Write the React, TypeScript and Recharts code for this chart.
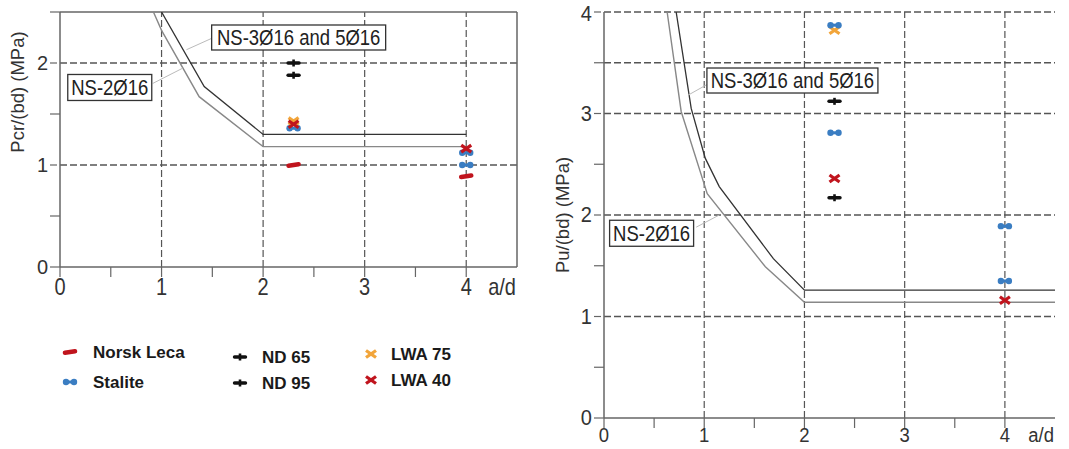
import React from 'react';
import {
  ComposedChart,
  Line,
  Scatter,
  XAxis,
  YAxis,
  ReferenceLine,
  ReferenceDot,
} from 'recharts';

const FONT = '"Liberation Sans", Arial, Helvetica, sans-serif';

// ---------- Cracking load Pcr/(bd) ----------
const pcrNorskLecaAD = [2.3, 4];
const pcrNorskLecaVal = [1.0, 0.89];
const pcrStaliteAD = [2.3, 4, 4];
const pcrStaliteVal = [1.36, 1.12, 1.0];
const pcrND65AD = [2.3];
const pcrND65Val = [1.88];
const pcrND95AD = [2.3];
const pcrND95Val = [2.0];
const pcrLWA75AD = [2.3];
const pcrLWA75Val = [1.43];
const pcrLWA40AD = [2.3, 4];
const pcrLWA40Val = [1.4, 1.16];

// design curves (NS code) for cracking load
const pcrNS3AD = [1.0, 1.42, 2.0, 4.0];
const pcrNS3Val = [2.5, 1.77, 1.3, 1.3];
const pcrNS2AD = [0.92, 1.0, 1.37, 2.0, 4.0];
const pcrNS2Val = [2.5, 2.32, 1.67, 1.18, 1.18];

// ---------- Ultimate load Pu/(bd) ----------
const puStaliteAD = [2.3, 2.3, 4, 4];
const puStaliteVal = [3.87, 2.81, 1.89, 1.35];
const puND65AD = [2.3];
const puND65Val = [2.17];
const puND95AD = [2.3];
const puND95Val = [3.12];
const puLWA75AD = [2.3];
const puLWA75Val = [3.82];
const puLWA40AD = [2.3, 4];
const puLWA40Val = [2.36, 1.16];

// design curves (NS code) for ultimate load
const puNS3AD = [0.72, 0.87, 1.01, 1.15, 1.69, 2.0, 4.5];
const puNS3Val = [4.0, 3.05, 2.56, 2.28, 1.57, 1.26, 1.26];
const puNS2AD = [0.63, 0.77, 1.03, 1.61, 2.0, 4.5];
const puNS2Val = [4.0, 3.02, 2.21, 1.49, 1.14, 1.14];

// axis ticks
const xTicks = [0, 0.5, 1, 1.5, 2, 2.5, 3, 3.5, 4, 4.5];
const pcrTicks = [0, 0.5, 1, 1.5, 2, 2.5];
const puTicks = [0, 0.5, 1, 1.5, 2, 2.5, 3, 3.5, 4];
const gridX = [1, 2, 3, 4];
const pcrGridY = [1, 2];
const puGridY = [1, 2, 3, 3.5, 4];

const legendItems = [
  { name: 'Norsk Leca', kind: 'leca' },
  { name: 'Stalite', kind: 'stalite' },
  { name: 'ND 65', kind: 'nd' },
  { name: 'ND 95', kind: 'nd' },
  { name: 'LWA 75', kind: 'lwa75' },
  { name: 'LWA 40', kind: 'lwa40' },
];

const zip = (xs: number[], ys: number[]) => xs.map((x, i) => ({ x, y: ys[i] }));

const RED = '#c0141d';
const BLUE = '#3a7dc2';
const ORANGE = '#f2a53a';
const BLACK = '#111111';

function Marker({ kind, cx, cy, s = 1 }: { kind: string; cx: number; cy: number; s?: number }) {
  if (kind === 'leca') {
    return (
      <line x1={cx - 5 * s} y1={cy + 0.7 * s} x2={cx + 5 * s} y2={cy - 0.7 * s} stroke={RED} strokeWidth={4.6 * s} strokeLinecap="round" />
    );
  }
  if (kind === 'stalite') {
    return (
      <g>
        <line x1={cx - 5 * s} y1={cy} x2={cx + 5 * s} y2={cy} stroke={BLUE} strokeWidth={3 * s} />
        <circle cx={cx - 4 * s} cy={cy} r={3.2 * s} fill={BLUE} />
        <circle cx={cx + 4 * s} cy={cy} r={3.2 * s} fill={BLUE} />
      </g>
    );
  }
  if (kind === 'nd') {
    return (
      <g>
        <line x1={cx - 5.5 * s} y1={cy} x2={cx + 5.5 * s} y2={cy} stroke={BLACK} strokeWidth={3.4 * s} strokeLinecap="round" />
        <line x1={cx} y1={cy - 3.5 * s} x2={cx} y2={cy + 3.5 * s} stroke={BLACK} strokeWidth={2.6 * s} />
      </g>
    );
  }
  const c = kind === 'lwa75' ? ORANGE : RED;
  return (
    <g>
      <line x1={cx - 5 * s} y1={cy - 3.5 * s} x2={cx + 5 * s} y2={cy + 3.5 * s} stroke={c} strokeWidth={3.2 * s} />
      <line x1={cx - 5 * s} y1={cy + 3.5 * s} x2={cx + 5 * s} y2={cy - 3.5 * s} stroke={c} strokeWidth={3.2 * s} />
    </g>
  );
}

const shapeOf = (kind: string) => (p: any) =>
  p && typeof p.cx === 'number' ? <Marker kind={kind} cx={p.cx} cy={p.cy} /> : <g />;

const isInt = (v: number) => Math.abs(v - Math.round(v)) < 1e-6;

const makeXTick = (labelDy: number, stretch: number, size: number) => (props: any) => {
  const { x, y, payload } = props;
  const v = payload.value as number;
  if (v > 4.25) return <g />;
  return (
    <g>
      <line x1={x} x2={x} y1={y} y2={y + 10} stroke="#666" strokeWidth={1.2} />
      {isInt(v) && (
        <text
          transform={`translate(${x},${y + labelDy}) scale(1,${stretch})`}
          textAnchor="middle"
          fontSize={size}
          fill="#333"
          fontFamily={FONT}
        >
          {v}
        </text>
      )}
    </g>
  );
};

const makeYTick = (gap: number, stretch: number) => (props: any) => {
  const { x, y, payload } = props;
  const v = payload.value as number;
  // keep the topmost label inside the canvas
  const base = Math.max(y + 7, 21);
  return (
    <g>
      <line x1={x - 10} x2={x} y1={y} y2={y} stroke="#666" strokeWidth={1.2} strokeDasharray={isInt(v) && v > 0 ? '7 3' : undefined} />
      {isInt(v) && (
        <text
          transform={`translate(${x - gap},${base}) scale(1,${stretch})`}
          textAnchor="end"
          fontSize={20}
          fill="#333"
          fontFamily={FONT}
        >
          {v}
        </text>
      )}
    </g>
  );
};

const boxLabel = (text: string, w: number, h: number) => (p: any) => {
  const { cx, cy } = p;
  return (
    <g>
      <rect x={cx - w / 2} y={cy - h / 2} width={w} height={h} fill="#fff" stroke="#333" strokeWidth={1.3} />
      <text
        transform={`translate(${cx},${cy + 7.5}) scale(1,1.15)`}
        textAnchor="middle"
        fontSize={18.5}
        fill="#222"
        fontFamily={FONT}
      >
        {text}
      </text>
    </g>
  );
};

const adLabel = (dy: number, stretch: number, size: number) => (p: any) => (
  <text
    transform={`translate(${p.cx - 1},${p.cy + dy}) scale(1,${stretch})`}
    textAnchor="end"
    fontSize={size}
    fill="#333"
    fontFamily={FONT}
  >
    a/d
  </text>
);

const GRID = '#555';
const DASH = '7 3';

function PcrChart() {
  return (
    <ComposedChart width={540} height={300} margin={{ top: 12, right: 23, bottom: 3, left: 0 }}>
      <XAxis
        type="number"
        dataKey="x"
        domain={[0, 4.5]}
        ticks={xTicks}
        interval={0}
        tickSize={0}
        tickMargin={0}
        tick={makeXTick(28, 1.22, 20)}
        axisLine={{ stroke: '#666', strokeWidth: 1.5 }}
        tickLine={false}
        height={30}
        allowDataOverflow
      />
      <YAxis
        type="number"
        dataKey="y"
        domain={[0, 2.5]}
        ticks={pcrTicks}
        interval={0}
        tickSize={0}
        tickMargin={0}
        tick={makeYTick(12, 1.05)}
        axisLine={{ stroke: '#666', strokeWidth: 1.5 }}
        tickLine={false}
        width={60}
        allowDataOverflow
        label={{
          content: (lp: any) => {
            const vb = lp.viewBox || { x: 0, y: 12 };
            return (
              <text
                transform={`translate(${vb.x + 24},${vb.y + 80}) rotate(-90)`}
                textAnchor="middle"
                fontSize={18.5}
                fill="#333"
                fontFamily={FONT}
              >
                Pcr/(bd) (MPa)
              </text>
            );
          },
        }}
      />
      {pcrGridY.map((v) => (
        <ReferenceLine key={'h' + v} y={v} stroke={GRID} strokeWidth={1.3} strokeDasharray={DASH} />
      ))}
      {gridX.map((v) => (
        <ReferenceLine key={'v' + v} x={v} stroke={GRID} strokeWidth={1.2} strokeDasharray={DASH} />
      ))}
      <ReferenceLine y={2.5} stroke="#666" strokeWidth={1.5} />
      <ReferenceLine x={4.5} stroke="#666" strokeWidth={1.5} />

      <Line data={zip(pcrNS3AD, pcrNS3Val)} dataKey="y" type="linear" stroke="#333" strokeWidth={1.3} dot={false} isAnimationActive={false} />
      <Line data={zip(pcrNS2AD, pcrNS2Val)} dataKey="y" type="linear" stroke="#888" strokeWidth={1.4} dot={false} isAnimationActive={false} />

      <ReferenceLine segment={[{ x: 1.49, y: 2.24 }, { x: 1.245, y: 2.13 }]} stroke="#bbb" strokeWidth={1} ifOverflow="visible" />
      <ReferenceLine segment={[{ x: 0.914, y: 1.8 }, { x: 1.21, y: 1.95 }]} stroke="#bbb" strokeWidth={1} ifOverflow="visible" />
      <ReferenceDot x={2.35} y={2.25} r={0} ifOverflow="visible" shape={boxLabel('NS-3Ø16 and 5Ø16', 174, 25)} />
      <ReferenceDot x={0.49} y={1.76} r={0} ifOverflow="visible" shape={boxLabel('NS-2Ø16', 84, 26)} />
      <ReferenceDot x={4.5} y={0} r={0} ifOverflow="visible" shape={adLabel(28, 1.2, 20)} />

      <Scatter data={zip(pcrLWA75AD, pcrLWA75Val)} shape={shapeOf('lwa75')} isAnimationActive={false} />
      <Scatter data={zip(pcrStaliteAD, pcrStaliteVal)} shape={shapeOf('stalite')} isAnimationActive={false} />
      <Scatter data={zip(pcrLWA40AD, pcrLWA40Val)} shape={shapeOf('lwa40')} isAnimationActive={false} />
      <Scatter data={zip(pcrNorskLecaAD, pcrNorskLecaVal)} shape={shapeOf('leca')} isAnimationActive={false} />
      <Scatter data={zip(pcrND65AD, pcrND65Val)} shape={shapeOf('nd')} isAnimationActive={false} />
      <Scatter data={zip(pcrND95AD, pcrND95Val)} shape={shapeOf('nd')} isAnimationActive={false} />
    </ComposedChart>
  );
}

function PuChart() {
  return (
    <ComposedChart width={529} height={449} margin={{ top: 12, right: 14, bottom: 1, left: 0 }}>
      <XAxis
        type="number"
        dataKey="x"
        domain={[0, 4.5]}
        ticks={xTicks}
        interval={0}
        tickSize={0}
        tickMargin={0}
        tick={makeXTick(24, 1.1, 18.5)}
        axisLine={{ stroke: '#666', strokeWidth: 1.5 }}
        tickLine={false}
        height={30}
        allowDataOverflow
      />
      <YAxis
        type="number"
        dataKey="y"
        domain={[0, 4]}
        ticks={puTicks}
        interval={0}
        tickSize={0}
        tickMargin={0}
        tick={makeYTick(12, 1.1)}
        axisLine={{ stroke: '#666', strokeWidth: 1.5 }}
        tickLine={false}
        width={64}
        allowDataOverflow
        label={{
          content: (lp: any) => {
            const vb = lp.viewBox || { x: 0, y: 12, height: 406 };
            return (
              <text
                transform={`translate(${vb.x + 29},${vb.y + vb.height / 2}) rotate(-90)`}
                textAnchor="middle"
                fontSize={18.5}
                fill="#333"
                fontFamily={FONT}
              >
                Pu/(bd) (MPa)
              </text>
            );
          },
        }}
      />
      {puGridY.map((v) => (
        <ReferenceLine key={'h' + v} y={v} stroke={GRID} strokeWidth={1.3} strokeDasharray={DASH} />
      ))}
      {gridX.map((v) => (
        <ReferenceLine key={'v' + v} x={v} stroke={GRID} strokeWidth={1.2} strokeDasharray={DASH} />
      ))}

      <Line data={zip(puNS3AD, puNS3Val)} dataKey="y" type="linear" stroke="#333" strokeWidth={1.3} dot={false} isAnimationActive={false} />
      <Line data={zip(puNS2AD, puNS2Val)} dataKey="y" type="linear" stroke="#888" strokeWidth={1.4} dot={false} isAnimationActive={false} />

      <ReferenceLine segment={[{ x: 1.054, y: 3.3 }, { x: 0.838, y: 3.18 }]} stroke="#bbb" strokeWidth={1} ifOverflow="visible" />
      <ReferenceLine segment={[{ x: 0.92, y: 1.88 }, { x: 1.15, y: 2.0 }]} stroke="#bbb" strokeWidth={1} ifOverflow="visible" />
      <ReferenceDot x={1.88} y={3.325} r={0} ifOverflow="visible" shape={boxLabel('NS-3Ø16 and 5Ø16', 171, 25)} />
      <ReferenceDot x={0.475} y={1.82} r={0} ifOverflow="visible" shape={boxLabel('NS-2Ø16', 84, 26)} />
      <ReferenceDot x={4.5} y={0} r={0} ifOverflow="visible" shape={adLabel(24, 1.1, 18.5)} />

      <Scatter data={zip(puLWA75AD, puLWA75Val)} shape={shapeOf('lwa75')} isAnimationActive={false} />
      <Scatter data={zip(puStaliteAD, puStaliteVal)} shape={shapeOf('stalite')} isAnimationActive={false} />
      <Scatter data={zip(puLWA40AD, puLWA40Val)} shape={shapeOf('lwa40')} isAnimationActive={false} />
      <Scatter data={zip(puND65AD, puND65Val)} shape={shapeOf('nd')} isAnimationActive={false} />
      <Scatter data={zip(puND95AD, puND95Val)} shape={shapeOf('nd')} isAnimationActive={false} />
    </ComposedChart>
  );
}

// legend layout: three columns, two rows
const legendCols = [70, 240, 371];
const legendRows = [
  [22, 52],
  [27, 53],
  [24, 50],
];

function SeriesLegend() {
  return (
    <svg width={540} height={80} style={{ position: 'absolute', left: 0, top: 330 }}>
      {legendItems.map((it, i) => {
        const col = Math.floor(i / 2);
        const row = i % 2;
        const cx = legendCols[col];
        const cy = legendRows[col][row];
        return (
          <g key={it.name}>
            <Marker kind={it.kind} cx={cx} cy={cy} s={1} />
            <text
              x={cx + (col === 0 ? 23 : col === 1 ? 22 : 20)}
              y={cy + 6}
              fontSize={17}
              fontWeight="bold"
              fill="#1a1a1a"
              fontFamily={FONT}
            >
              {it.name}
            </text>
          </g>
        );
      })}
    </svg>
  );
}

export default function App() {
  return (
    <div style={{ position: 'fixed', left: 0, top: 0, width: 1069, height: 449, background: '#fff', overflow: 'hidden' }}>
      <div style={{ position: 'absolute', left: 0, top: 0 }}>
        <PcrChart />
      </div>
      <div style={{ position: 'absolute', left: 540, top: 0 }}>
        <PuChart />
      </div>
      <SeriesLegend />
    </div>
  );
}
